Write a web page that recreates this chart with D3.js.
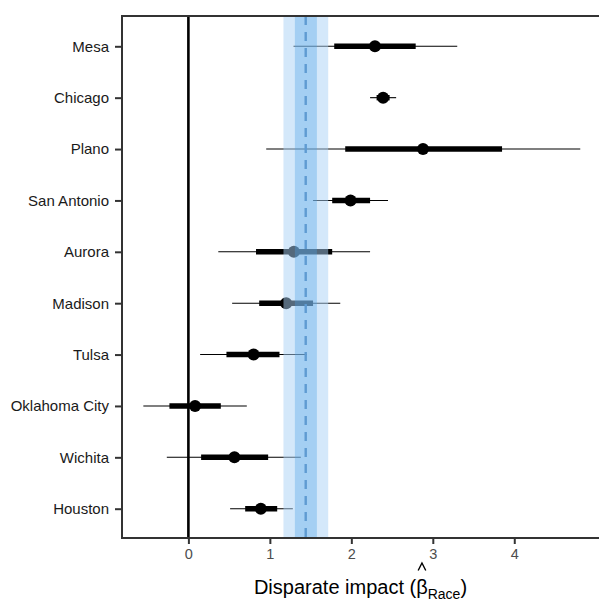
<!DOCTYPE html>
<html>
<head>
<meta charset="utf-8">
<script src="https://cdn.jsdelivr.net/npm/d3@7"></script>
<style>
  html, body { margin: 0; padding: 0; background: #fff; }
  svg { display: block; font-family: "Liberation Sans", Arial, sans-serif; }
</style>
</head>
<body>
<svg id="chart" width="599" height="604"></svg>
<script>
const cities   = ["Mesa","Chicago","Plano","San Antonio","Aurora","Madison","Tulsa","Oklahoma City","Wichita","Houston"];
const estimate = [2.29, 2.39, 2.88, 1.99, 1.295, 1.20, 0.80, 0.082, 0.565, 0.889];
const innerLo  = [1.79, 2.31, 1.925, 1.765, 0.83, 0.869, 0.467, -0.233, 0.156, 0.697];
const innerHi  = [2.79, 2.47, 3.85, 2.23, 1.765, 1.53, 1.118, 0.398, 0.979, 1.09];
const outerLo  = [1.29, 2.23, 0.955, 1.53, 0.367, 0.537, 0.144, -0.553, -0.265, 0.512];
const outerHi  = [3.30, 2.55, 4.81, 2.45, 2.23, 1.864, 1.455, 0.717, 1.38, 1.282];
const pooledEstimate = 1.44;
const pooledInner = [1.307, 1.577];
const pooledOuter = [1.167, 1.716];
const xTicks = [0, 1, 2, 3, 4];
const xDomain = [-0.815, 5.04];

const panel = {left: 122, right: 599, top: 16, bottom: 538};
const svg = d3.select("#chart");

const x = d3.scaleLinear().domain(xDomain).range([panel.left, panel.right]);
const y = d3.scalePoint().domain(cities).range([46.3, 508.7]);

const rows = cities.map((c, i) => ({city: c, est: estimate[i], ilo: innerLo[i], ihi: innerHi[i], olo: outerLo[i], ohi: outerHi[i]}));

// zero reference line
svg.append("line")
  .attr("x1", x(0)).attr("x2", x(0))
  .attr("y1", panel.top).attr("y2", panel.bottom)
  .attr("stroke", "#000").attr("stroke-width", 2.6);

// outer intervals
svg.append("g").selectAll("line").data(rows).join("line")
  .attr("x1", d => x(d.olo)).attr("x2", d => x(d.ohi))
  .attr("y1", d => y(d.city)).attr("y2", d => y(d.city))
  .attr("stroke", "#000").attr("stroke-width", 1.1);

// inner intervals
svg.append("g").selectAll("line").data(rows).join("line")
  .attr("x1", d => x(d.ilo)).attr("x2", d => x(d.ihi))
  .attr("y1", d => y(d.city)).attr("y2", d => y(d.city))
  .attr("stroke", "#000").attr("stroke-width", 5.4);

// points
svg.append("g").selectAll("circle").data(rows).join("circle")
  .attr("cx", d => x(d.est)).attr("cy", d => y(d.city))
  .attr("r", 6).attr("fill", "#000");

// pooled bands (drawn over data, semi transparent)
svg.append("rect")
  .attr("x", x(pooledOuter[0])).attr("width", x(pooledOuter[1]) - x(pooledOuter[0]))
  .attr("y", panel.top).attr("height", panel.bottom - panel.top)
  .attr("fill", "rgb(170,210,245)").attr("fill-opacity", 0.5);
svg.append("rect")
  .attr("x", x(pooledInner[0])).attr("width", x(pooledInner[1]) - x(pooledInner[0]))
  .attr("y", panel.top).attr("height", panel.bottom - panel.top)
  .attr("fill", "rgb(75,160,230)").attr("fill-opacity", 0.35);

// pooled estimate dashed line
svg.append("line")
  .attr("x1", x(pooledEstimate)).attr("x2", x(pooledEstimate))
  .attr("y1", panel.top).attr("y2", panel.bottom)
  .attr("stroke", "rgb(95,155,210)").attr("stroke-width", 2.4)
  .attr("stroke-dasharray", "9,7");

// panel border
svg.append("rect")
  .attr("x", panel.left).attr("y", panel.top)
  .attr("width", 602 - panel.left).attr("height", panel.bottom - panel.top)
  .attr("fill", "none").attr("stroke", "#333").attr("stroke-width", 2);

// axes
const xAxis = svg.append("g")
  .attr("transform", `translate(0,${panel.bottom})`)
  .call(d3.axisBottom(x).tickValues(xTicks).tickFormat(d3.format("d")).tickSize(6).tickPadding(5));
xAxis.select(".domain").remove();
xAxis.selectAll(".tick line").attr("stroke", "#333").attr("stroke-width", 2);
xAxis.selectAll(".tick text").attr("fill", "#4d4d4d").attr("font-size", 14.5)
  .attr("font-family", "Liberation Sans, Arial, sans-serif");

const yAxis = svg.append("g")
  .attr("transform", `translate(${panel.left},0)`)
  .call(d3.axisLeft(y).tickSize(7).tickPadding(6));
yAxis.select(".domain").remove();
yAxis.selectAll(".tick line").attr("stroke", "#333").attr("stroke-width", 2);
yAxis.selectAll(".tick text").attr("fill", "#1a1a1a").attr("font-size", 15)
  .attr("font-family", "Liberation Sans, Arial, sans-serif");

// x axis title
const title = svg.append("text")
  .attr("x", (panel.left + panel.right) / 2).attr("y", 594)
  .attr("text-anchor", "middle").attr("font-size", 20).attr("fill", "#000");
title.append("tspan").text("Disparate impact (");
title.append("tspan").text("β");
title.append("tspan").attr("font-size", 14).attr("dy", 5).text("Race");
title.append("tspan").attr("dy", -5).text(")");

// hat over beta (drawn as a small mark)
const tn = title.node();
const idx = "Disparate impact (".length;
const startPos = tn.getStartPositionOfChar(idx);
const endPos = tn.getEndPositionOfChar(idx);
const hx = (startPos.x + endPos.x) / 2;
svg.append("path")
  .attr("d", d3.line()([[hx - 3.8, 570.5], [hx, 563], [hx + 3.8, 570.5]]))
  .attr("fill", "none").attr("stroke", "#000").attr("stroke-width", 1.4);
</script>
</body>
</html>
